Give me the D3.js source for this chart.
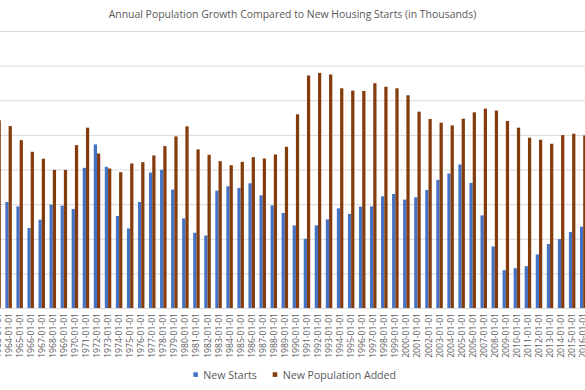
<!DOCTYPE html>
<html>
<head>
<meta charset="utf-8">
<script src="https://cdn.jsdelivr.net/npm/d3@7"></script>
<style>
  html, body { margin: 0; padding: 0; background: #fff; }
  svg { display: block; }
  text { font-family: "Open Sans", sans-serif; fill: #595959; }
</style>
</head>
<body>
<svg id="chart" width="585" height="390"></svg>
<script>
const title = "Annual Population Growth Compared to New Housing Starts (in Thousands)";
const years = d3.range(1963, 2017);
const seriesNames = ["New Starts", "New Population Added"];
const seriesColors = ["#4472C4", "#843C0C"];
const yTicks = [0, 500, 1000, 1500, 2000, 2500, 3000, 3500, 4000];

const newStarts = [1603,1532,1468,1155,1275,1493,1478,1430,
  2024,2362,2039,1329,1149,1532,1956,1995,1710,1294,
  1087,1048,1695,1758,1734,1801,1627,1482,1372,1193,
  1000,1193,1280,1439,1358,1464,1468,1613,1647,1565,
  1599,1705,1850,1942,2072,1806,1337,889,546,575,
  604,773,923,995,1097,1174];
const popAdded = [2710,2627,2424,2256,2155,1995,1995,2352,
  2604,2231,2014,1961,2087,2106,2203,2338,2478,2623,
  2290,2212,2120,2062,2111,2178,2159,2217,2328,2797,
  3357,3395,3372,3173,3140,3134,3246,3195,3173,3072,
  2835,2729,2676,2637,2734,2826,2879,2850,2700,2604,
  2459,2430,2372,2497,2517,2492];

const svg = d3.select("#chart");
const W = 585;
const step = 11.05;
const x0 = -2.45 - step / 2;
const x = d3.scaleBand().domain(years).range([x0, x0 + years.length * step]).padding(0);
const xi = d3.scaleBand().domain(seriesNames).range([0, x.bandwidth()]).paddingInner(0).paddingOuter(0.7);
const y = d3.scaleLinear().domain([0, 4000]).range([308, 31]);

// gridlines
svg.append("g")
  .call(d3.axisLeft(y).tickValues(yTicks).tickSize(-W).tickFormat(""))
  .call(g => g.select(".domain").remove())
  .call(g => g.selectAll(".tick line").attr("stroke", "#d9d9d9").attr("stroke-width", 1));

// bars
const data = years.map((yr, i) => ({ year: yr, values: [newStarts[i], popAdded[i]] }));
const groups = svg.append("g").selectAll("g").data(data).join("g")
  .attr("transform", d => `translate(${x(d.year)},0)`);
groups.selectAll("rect")
  .data(d => d.values.map((v, k) => ({ key: seriesNames[k], value: v, color: seriesColors[k] })))
  .join("rect")
  .attr("x", d => xi(d.key))
  .attr("width", xi.bandwidth())
  .attr("y", d => y(d.value))
  .attr("height", d => y(0) - y(d.value))
  .attr("fill", d => d.color);

// x axis
svg.append("g")
  .attr("transform", `translate(0,${y(0)})`)
  .call(d3.axisBottom(x).tickSize(0).tickFormat(d => `${d}-01-01`))
  .call(g => g.select(".domain").attr("stroke", "#d9d9d9"))
  .call(g => g.selectAll("text")
    .attr("transform", "rotate(-90)")
    .attr("text-anchor", "end")
    .attr("x", -5)
    .attr("y", 0)
    .attr("dy", "0.35em")
    .style("font-size", "8.6px")
    .style("font-family", "'Open Sans', sans-serif")
    .attr("fill", "#595959"));

// title
svg.append("text")
  .attr("x", 292.5).attr("y", 18.3)
  .attr("text-anchor", "middle")
  .style("font-size", "10.45px")
  .text(title);

// legend
const legendX = [193.3, 272.7];
const lg = svg.append("g").selectAll("g").data(seriesNames).join("g")
  .attr("transform", (d, i) => `translate(${legendX[i]},372.3)`);
lg.append("rect").attr("width", 4.6).attr("height", 4.6).attr("fill", (d, i) => seriesColors[i]);
lg.append("text").attr("x", 10).attr("y", 6.3).style("font-size", "10.6px").text(d => d);
</script>
</body>
</html>
